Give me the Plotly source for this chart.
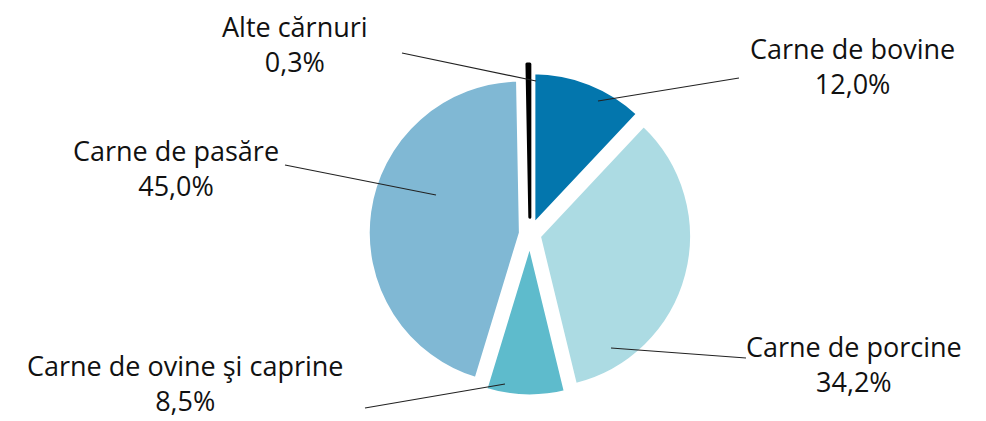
import plotly.graph_objects as go

# meat consumption structure (%)
labels = ["Carne de bovine", "Carne de porcine", "Carne de ovine şi caprine",
          "Carne de pasăre", "Alte cărnuri"]
values = [12.0, 34.2, 8.5, 45.0, 0.3]
value_text = ["12,0%", "34,2%", "8,5%", "45,0%", "0,3%"]
colors = ["#0376ad", "#acdbe3", "#5ebbcc", "#80b8d4", "#000000"]
pulls = [0.06, 0.06, 0.06, 0.06, 0.11]

W, H = 986, 421
FONT = "Open Sans"

fig = go.Figure()
fig.add_trace(go.Pie(
    labels=labels, values=values, sort=False, direction="clockwise", rotation=0,
    pull=pulls, textinfo="none", hoverinfo="label+percent", showlegend=False,
    marker=dict(colors=colors,
                line=dict(color=["white"] * 4 + ["black"], width=[4, 4, 4, 4, 3])),
    domain=dict(x=[352 / W, 692 / W], y=[25 / H, 365 / H]),
))

# label placement (pixel space): text centre x, y, leader start, leader end
label_pos = {
    "Alte cărnuri": (287, 36, (394, 45), (528, 73)),
    "Carne de bovine": (844, 58, (731, 70), (590, 93)),
    "Carne de pasăre": (168, 160, (277, 157), (428, 187)),
    "Carne de porcine": (846, 356, (738, 350), (603, 340)),
    "Carne de ovine şi caprine": (177, 375, (357, 400), (497, 376)),
}

for lab, txt in zip(labels, value_text):
    cx, cy, p0, p1 = label_pos[lab]
    fig.add_annotation(x=cx, y=cy, xref="x", yref="y", text=lab + "<br>" + txt,
                       showarrow=False, borderpad=0,
                       font=dict(family=FONT, size=27, color="#111111"))
    fig.add_shape(type="line", xref="x", yref="y", x0=p0[0], y0=p0[1], x1=p1[0], y1=p1[1],
                  line=dict(color="#222222", width=1.2))

fig.update_xaxes(range=[0, W], visible=False, fixedrange=True)
fig.update_yaxes(range=[H, 0], visible=False, fixedrange=True)
fig.update_layout(width=W, height=H, margin=dict(l=0, r=0, t=0, b=0),
                  paper_bgcolor="white", plot_bgcolor="rgba(0,0,0,0)")
fig.write_html("out.html")
